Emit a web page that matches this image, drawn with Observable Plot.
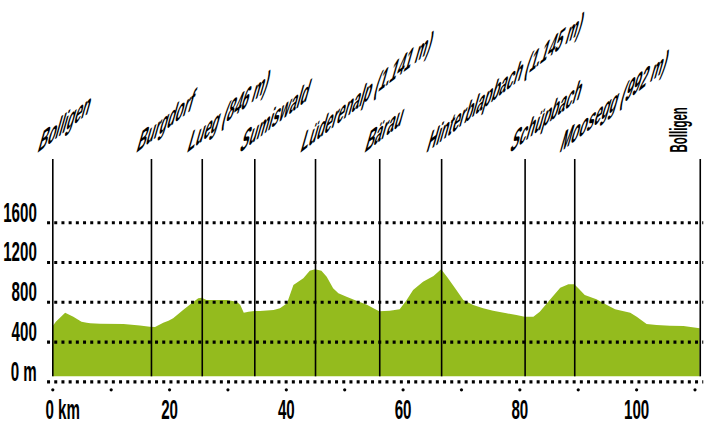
<!DOCTYPE html>
<html>
<head>
<meta charset="utf-8">
<script src="https://cdn.jsdelivr.net/npm/d3@7"></script>
<script src="https://cdn.jsdelivr.net/npm/@observablehq/plot@0.6"></script>
<style>
html, body { margin: 0; padding: 0; background: #fff; }
#chart svg { display: block; }
</style>
</head>
<body>
<div id="chart"></div>
<script>
// Elevation profile (distance in km, elevation in m)
const profileKm = [0, 0.6, 2.2, 3.6, 5.0, 5.9, 6.5, 8.2, 12.2, 15.0, 16.7, 17.6, 19.0, 19.9, 20.7, 22.4, 24.2, 25.0, 25.6, 26.4, 27.6, 29.9, 31.6, 32.2, 32.8, 33.6, 34.6, 35.6, 37.9, 39.0, 40.2, 41.3, 43.0, 44.1, 45.0, 46.1, 47.0, 48.1, 49.0, 50.4, 52.1, 53.9, 55.0, 56.0, 57.8, 59.5, 60.7, 61.8, 63.5, 65.3, 66.6, 67.6, 69.0, 70.4, 72.1, 73.8, 75.5, 77.8, 79.5, 80.9, 82.4, 83.5, 85.2, 87.0, 88.4, 89.4, 90.1, 91.2, 93.2, 95.0, 96.4, 99.0, 100.1, 101.8, 103.5, 105.8, 108.1, 110.9];
const profileElev = [549, 600, 690, 650, 600, 590, 583, 580, 576, 562, 549, 546, 590, 610, 634, 717, 801, 835, 841, 818, 818, 818, 801, 768, 690, 700, 707, 707, 717, 734, 785, 969, 1036, 1113, 1127, 1113, 1052, 936, 885, 851, 811, 770, 735, 705, 710, 724, 818, 918, 1002, 1059, 1127, 1052, 936, 818, 768, 734, 710, 684, 667, 650, 650, 700, 818, 942, 976, 976, 936, 868, 825, 768, 724, 690, 650, 576, 566, 559, 556, 533];

// Waypoints
const stationNames = ["Bolligen", "Burgdorf", "Lueg (846 m)", "Sumiswald", "Lüderenalp (1.141 m)", "Bärau", "Hinterblapbach (1.145 m)", "Schüpbach", "Moosegg (992 m)", "Bolligen"];
const stationKm = [0, 16.9, 25.6, 34.6, 45.0, 56.0, 66.6, 80.9, 89.4, 110.9];

// Axes
const yTicks = [0, 400, 800, 1200, 1600];
const yTickLabels = ["0 m", "400", "800", "1200", "1600"];
const xTickDots = [0, 10, 20, 30, 40, 50, 60, 70, 80, 90, 100, 110];
const xTickValues = [0, 20, 40, 60, 80, 100];
const xTickLabels = ["0 km", "20", "40", "60", "80", "100"];

const profile = profileKm.map((k, i) => ({km: k, elev: profileElev[i]}));
const stations = stationNames.map((n, i) => ({name: n, km: stationKm[i]}));
const slanted = stations.slice(0, -1);
const last = stations.slice(-1);
const xFirst = xTickValues.slice(0, 1).map((v, i) => ({v, t: xTickLabels[i]}));
const xRest = xTickValues.slice(1).map((v, i) => ({v, t: xTickLabels[i + 1]}));

const BASE = 50;
const TOP = 2236;
const GREEN = "#94bb1e";

const svg = Plot.plot({
  width: 712,
  height: 426,
  marginLeft: 52.3,
  marginRight: 17.5,
  marginTop: 159,
  marginBottom: 44.7,
  x: {domain: [0, 110], axis: null},
  y: {domain: [0, TOP], axis: null},
  style: {fontFamily: "'Liberation Sans', Arial, sans-serif", background: "#fff", color: "#000", overflow: "visible"},
  marks: [
    Plot.areaY(profile, {x: "km", y1: BASE, y2: "elev", fill: GREEN}),
    Plot.ruleX(stations, {x: "km", y1: BASE, y2: TOP, stroke: "#000", strokeWidth: 1.6}),
    Plot.ruleY(yTicks, {y: d => d, x1: -0.9, x2: 111.5, stroke: "#000", strokeWidth: 3.2, strokeDasharray: "3 4.2"}),
    Plot.dot(xTickDots, {x: d => d, frameAnchor: "bottom", dy: 8, r: 1.6, fill: "#000", stroke: null}),
    Plot.text(yTicks, {y: d => d, text: (d, i) => yTickLabels[i], frameAnchor: "left", dx: -16, dy: -1, textAnchor: "end", lineAnchor: "bottom", fontSize: 27, fontWeight: "bold", fill: "#000", ariaDescription: "cond"}),
    Plot.text(xFirst, {x: "v", text: "t", frameAnchor: "bottom", dx: -7.3, dy: 37, textAnchor: "start", lineAnchor: "bottom", fontSize: 27, fontWeight: "bold", fill: "#000", ariaDescription: "cond"}),
    Plot.text(xRest, {x: "v", text: "t", frameAnchor: "bottom", dy: 37, textAnchor: "middle", lineAnchor: "bottom", fontSize: 27, fontWeight: "bold", fill: "#000", ariaDescription: "cond"}),
    Plot.text(slanted, {x: "km", text: "name", frameAnchor: "top", dx: -16, dy: -6, textAnchor: "start", lineAnchor: "bottom", fontSize: 25, fontWeight: "bold", fill: "#000", ariaDescription: "slant"}),
    Plot.text(last, {x: "km", text: "name", frameAnchor: "top", rotate: -90, dx: -13, dy: -7, textAnchor: "start", lineAnchor: "bottom", fontSize: 23, fontWeight: "bold", fill: "#000", ariaDescription: "vert"})
  ]
});

function addTransform(selector, extra) {
  svg.querySelectorAll(selector).forEach(el => {
    let t = el.getAttribute("transform");
    if (!t) {
      t = `translate(${el.getAttribute("x") || 0},${el.getAttribute("y") || 0})`;
      el.removeAttribute("x");
      el.removeAttribute("y");
    }
    el.setAttribute("transform", t + " " + extra);
  });
}
addTransform('g[aria-description="cond"] text', "scale(0.56,1)");
addTransform('g[aria-description="vert"] text', "scale(0.5,1)");
addTransform('g[aria-description="slant"] text', "skewY(-38) skewX(-20) scale(0.52,1)");

document.getElementById("chart").appendChild(svg);
</script>
</body>
</html>
